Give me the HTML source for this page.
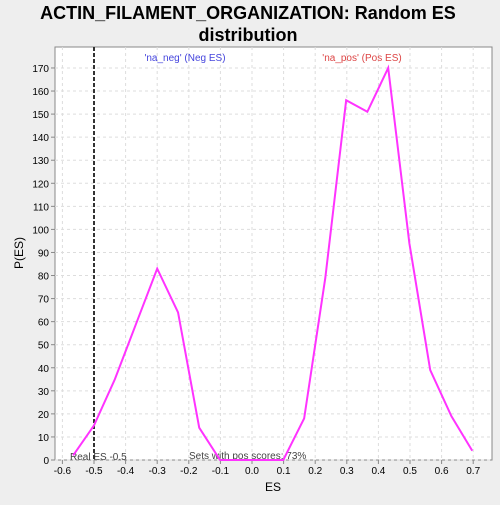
<!DOCTYPE html><html><head><meta charset="utf-8"><style>
body{margin:0;background:#eeeeee;font-family:"Liberation Sans",sans-serif}
</style></head><body>
<svg id="c" width="500" height="500" xmlns="http://www.w3.org/2000/svg">
<text x="248" y="19" text-anchor="middle" font-size="18" font-weight="bold">ACTIN_FILAMENT_ORGANIZATION: Random ES</text>
<text x="248" y="41" text-anchor="middle" font-size="18" font-weight="bold">distribution</text>
<rect x="55" y="47" width="437" height="413" fill="#fff" stroke="#888"/>
<g id="grid"></g><g id="ax"></g>
<text x="273" y="491" text-anchor="middle" font-size="12">ES</text>
<text x="23" y="253" text-anchor="middle" font-size="12" transform="rotate(-90 23 253)">P(ES)</text>
<text x="185" y="61" text-anchor="middle" font-size="10" fill="#4444dd">'na_neg' (Neg ES)</text>
<text x="362" y="61" text-anchor="middle" font-size="10" fill="#dd4444">'na_pos' (Pos ES)</text>
<text x="70" y="460" font-size="10" fill="#444">Real ES -0.5</text>
<text x="189" y="459" font-size="10" fill="#444">Sets with pos scores: 73%</text>
<g id="plot"></g>
</svg>
<script>
const xVals=[-0.566,-0.5,-0.434,-0.367,-0.3,-0.234,-0.167,-0.101,-0.034,0.032,0.099,0.165,0.232,0.298,0.365,0.431,0.498,0.564,0.631,0.697];
const yVals=[2,15,35,59,83,64,14,0,0,0,0,18,79,156,151,170,94,39,19,4];
const xTicks=[-0.6,-0.5,-0.4,-0.3,-0.2,-0.1,0.0,0.1,0.2,0.3,0.4,0.5,0.6,0.7];
const yTicks=[0,10,20,30,40,50,60,70,80,90,100,110,120,130,140,150,160,170];
const realES=-0.5;
const NS="http://www.w3.org/2000/svg";
const X=v=>252+v*316, Y=v=>460-v*2.306;
function mk(t,a,p){const e=document.createElementNS(NS,t);for(const k in a)e.setAttribute(k,a[k]);p.appendChild(e);return e;}
const g=document.getElementById('grid'),ax=document.getElementById('ax'),pl=document.getElementById('plot');
xTicks.forEach(t=>{const x=X(t);
 let l=mk('line',{x1:x,x2:x,y1:47,y2:460,stroke:'#ddd','stroke-dasharray':'3,3'},g);
 
 mk('line',{x1:x,x2:x,y1:460,y2:464,stroke:'#888'},ax);
 let tx=mk('text',{x:x,y:474,'text-anchor':'middle','font-size':10},ax);tx.textContent=t.toFixed(1);
 });
yTicks.forEach(t=>{const y=Y(t);
 let l=mk('line',{x1:55,x2:492,y1:y,y2:y,stroke:'#ddd','stroke-dasharray':'3,3'},g);
 
 mk('line',{x1:51,x2:55,y1:y,y2:y,stroke:'#888'},ax);
 let tx=mk('text',{x:49,y:y+4,'text-anchor':'end','font-size':10},ax);tx.textContent=t;
 });
let rl=mk('line',{x1:X(realES),x2:X(realES),y1:47,y2:460,stroke:'#333','stroke-width':2,'stroke-dasharray':'4,2'},pl);

let p=mk('polyline',{points:xVals.map((x,i)=>X(x)+','+Y(yVals[i])).join(' '),fill:'none',stroke:'#ff33ff','stroke-width':2},pl);

</script></body></html>
